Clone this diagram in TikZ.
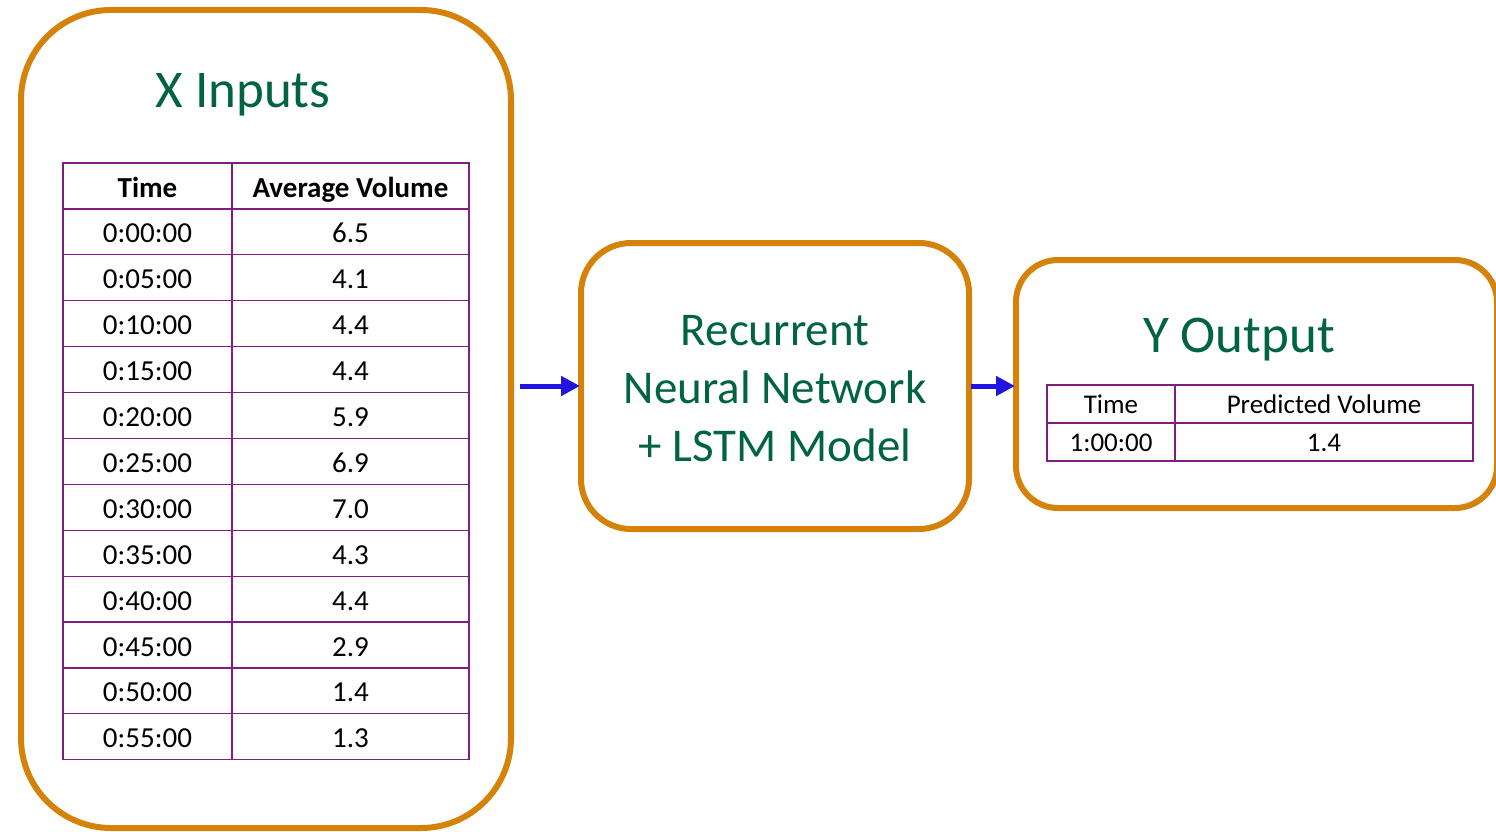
\documentclass[tikz,border=0pt]{standalone}
\usepackage{fontspec}
\setmainfont{Carlito}
\usetikzlibrary{arrows.meta}
\definecolor{frameorange}{RGB}{212,130,10}
\definecolor{titlegreen}{RGB}{0,100,66}
\definecolor{gridpurple}{RGB}{128,30,128}
\definecolor{flowblue}{RGB}{34,20,224}
\tikzset{
  panel/.style={draw=frameorange, line width=6pt, fill=white, inner sep=0pt},
  heading/.style={text=titlegreen, inner sep=0pt, font=\fontsize{53}{60}\selectfont},
  modeltext/.style={text=titlegreen, align=center, inner sep=0pt, font=\fontsize{47}{58}\selectfont},
  cell/.style={draw=gridpurple, line width=1.2pt, inner sep=0pt, anchor=center},
  bigcell/.style={cell, font=\fontsize{29}{34}\selectfont, minimum height=45.9pt,
    text height=23pt, text depth=1pt},
  smallcell/.style={cell, font=\fontsize{27}{32}\selectfont, minimum height=38pt,
    text height=20.5pt, text depth=1pt},
  flow/.style={draw=flowblue, line width=5pt, -{Triangle[length=19pt,width=19pt]}}
}
\begin{document}
\begin{tikzpicture}[x=1pt, y=-1pt]
\useasboundingbox (0,0) rectangle (1496,832);

% the three panels
\node[panel, rounded corners=90pt, minimum width=490pt, minimum height=818pt] (inbox) at (266,419) {};
\node[panel, rounded corners=50pt, minimum width=388pt, minimum height=286pt] (model) at (775,386) {};
\node[panel, rounded corners=42pt, minimum width=481pt, minimum height=248pt] (outbox) at (1256.5,384) {};

% titles
\node[heading] (xtitle) at (243,95) {X Inputs};
\node[modeltext] (mtext) at (775,389) {Recurrent\\Neural Network\\+ LSTM Model};
\node[heading] (ytitle) at (1239,340) {Y Output};

% input table
\node[bigcell, minimum width=169pt, font=\fontsize{29}{34}\selectfont\bfseries] (h1) at (147.5,186) {Time};
\node[bigcell, minimum width=237pt, font=\fontsize{29}{34}\selectfont\bfseries] (h2) at (350.5,186) {Average Volume};
\foreach \t/\v [count=\i] in {0:00:00/6.5, 0:05:00/4.1, 0:10:00/4.4, 0:15:00/4.4,
    0:20:00/5.9, 0:25:00/6.9, 0:30:00/7.0, 0:35:00/4.3, 0:40:00/4.4,
    0:45:00/2.9, 0:50:00/1.4, 0:55:00/1.3} {
  \node[bigcell, minimum width=169pt] (t\i) at (147.5,{186+45.9*\i}) {\t};
  \node[bigcell, minimum width=237pt] (v\i) at (350.5,{186+45.9*\i}) {\v};
}

% output table
\node[smallcell, minimum width=128pt] (oh1) at (1111,404) {Time};
\node[smallcell, minimum width=298pt] (oh2) at (1324,404) {Predicted Volume};
\node[smallcell, minimum width=128pt] (ot1) at (1111,442) {1:00:00};
\node[smallcell, minimum width=298pt] (ov1) at (1324,442) {1.4};

% data flow
\draw[flow, shorten <=6pt, shorten >=-2pt] (inbox.east |- model.west) -- (model.west);
\draw[flow, shorten <=-1pt, shorten >=-2pt] (model.east) -- (outbox.west |- model.east);
\end{tikzpicture}
\end{document}
